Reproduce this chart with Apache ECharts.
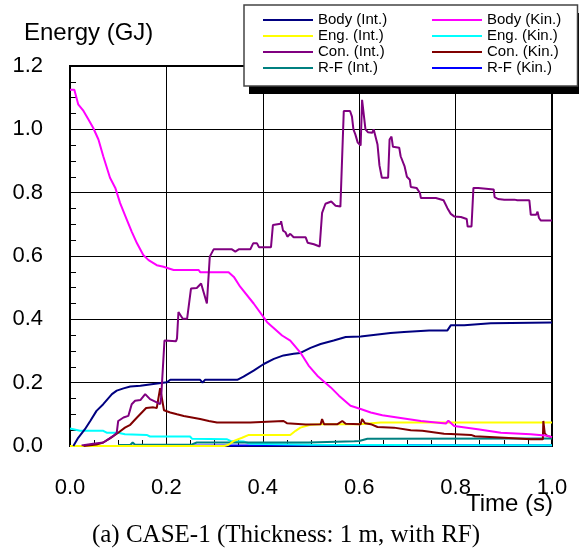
<!DOCTYPE html>
<html>
<head>
<meta charset="utf-8">
<script src="https://cdn.jsdelivr.net/npm/echarts@6/dist/echarts.min.js"></script>
<style>html,body{margin:0;padding:0;background:#fff;}#c{width:579px;height:550px;}</style>
</head>
<body>
<div id="c"></div>
<script>
// ---- data (time in s, energy in GJ) ----
const xTicks = [0, 0.2, 0.4, 0.6, 0.8, 1.0];
const yTicks = [0, 0.2, 0.4, 0.6, 0.8, 1.0, 1.2];

const bodyIntT = [0.007,0.017,0.031,0.042,0.055,0.069,0.087,0.097,0.111,0.125,0.146,0.173,0.201,0.208,0.270,0.275,0.280,0.347,0.360,0.381,0.402,0.423,0.443,0.464,0.478,0.499,0.520,0.547,0.572,0.603,0.665,0.693,0.745,0.783,0.790,0.818,0.873,1.0];
const bodyIntE = [0.0,0.026,0.053,0.079,0.111,0.132,0.164,0.175,0.182,0.188,0.190,0.196,0.201,0.209,0.209,0.200,0.209,0.209,0.219,0.238,0.259,0.275,0.286,0.291,0.294,0.310,0.322,0.333,0.344,0.346,0.357,0.360,0.365,0.365,0.381,0.381,0.388,0.390];

const bodyKinT = [0,0.009,0.017,0.028,0.038,0.048,0.059,0.069,0.083,0.094,0.104,0.118,0.128,0.139,0.152,0.163,0.180,0.194,0.215,0.267,0.270,0.329,0.340,0.353,0.381,0.409,0.440,0.457,0.478,0.495,0.513,0.541,0.558,0.582,0.603,0.624,0.648,0.679,0.728,0.780,0.785,0.797,0.846,0.894,0.956,0.991,1.0];
const bodyKinE = [1.125,1.125,1.079,1.058,1.032,1.005,0.968,0.915,0.847,0.815,0.767,0.714,0.677,0.640,0.603,0.587,0.571,0.566,0.556,0.556,0.549,0.549,0.534,0.503,0.450,0.391,0.349,0.333,0.295,0.254,0.222,0.185,0.159,0.127,0.117,0.106,0.097,0.090,0.079,0.071,0.080,0.063,0.053,0.042,0.037,0.032,0.028];

const engIntT = [0.0,0.320,0.329,0.340,0.357,0.371,0.457,0.468,0.478,0.499,0.523,0.600,0.645,1.0];
const engIntE = [0.0,0.0,0.004,0.016,0.026,0.035,0.035,0.048,0.058,0.067,0.069,0.069,0.074,0.074];

const engKinT = [0,0.021,0.069,0.076,0.100,0.114,0.159,0.166,0.249,0.253,0.326,0.333,0.360,0.374,0.50,0.70,1.0];
const engKinE = [0.055,0.048,0.048,0.042,0.042,0.037,0.035,0.030,0.030,0.023,0.021,0.016,0.014,0.007,0.004,0.003,0.002];

const conIntT = [0.024,0.048,0.069,0.090,0.097,0.100,0.111,0.121,0.128,0.135,0.146,0.156,0.166,0.180,0.187,0.189,0.196,0.220,0.222,0.225,0.234,0.243,0.251,0.263,0.272,0.284,0.290,0.298,0.336,0.343,0.350,0.374,0.380,0.388,0.392,0.417,0.421,0.437,0.438,0.442,0.447,0.451,0.457,0.464,0.489,0.493,0.506,0.518,0.523,0.530,0.542,0.551,0.561,0.568,0.581,0.585,0.588,0.592,0.597,0.603,0.606,0.613,0.618,0.627,0.630,0.638,0.642,0.645,0.647,0.660,0.663,0.667,0.670,0.683,0.686,0.694,0.699,0.705,0.707,0.719,0.726,0.728,0.759,0.762,0.775,0.783,0.790,0.797,0.811,0.823,0.825,0.833,0.837,0.847,0.851,0.879,0.881,0.888,0.892,0.901,0.922,0.925,0.928,0.953,0.956,0.967,0.970,0.973,0.977,1.0];
const conIntE = [0.002,0.007,0.011,0.032,0.042,0.079,0.090,0.095,0.132,0.143,0.145,0.164,0.148,0.138,0.132,0.150,0.333,0.331,0.340,0.423,0.402,0.402,0.497,0.499,0.513,0.450,0.598,0.621,0.621,0.614,0.621,0.621,0.640,0.640,0.628,0.628,0.698,0.702,0.710,0.680,0.675,0.661,0.670,0.659,0.659,0.642,0.637,0.630,0.736,0.765,0.772,0.759,0.756,1.058,1.058,1.040,1.000,0.984,0.958,0.949,1.093,1.000,0.991,0.989,1.000,0.952,0.886,0.884,0.847,0.847,0.968,0.977,0.945,0.942,0.915,0.884,0.850,0.841,0.818,0.815,0.799,0.783,0.783,0.778,0.776,0.751,0.733,0.725,0.723,0.717,0.693,0.693,0.815,0.815,0.810,0.810,0.786,0.780,0.783,0.778,0.778,0.783,0.776,0.776,0.730,0.730,0.740,0.720,0.712,0.712];

const conKinT = [0.028,0.055,0.069,0.083,0.100,0.114,0.125,0.139,0.158,0.173,0.180,0.187,0.195,0.208,0.222,0.236,0.253,0.270,0.288,0.305,0.374,0.378,0.443,0.450,0.489,0.520,0.523,0.527,0.555,0.565,0.572,0.603,0.606,0.612,0.624,0.638,0.672,0.707,0.731,0.734,0.776,0.790,0.832,0.840,0.901,0.956,0.981,0.982,0.985,0.990,1.0];
const conKinE = [0.0,0.005,0.011,0.024,0.042,0.058,0.067,0.090,0.120,0.122,0.120,0.183,0.113,0.106,0.100,0.095,0.090,0.085,0.079,0.074,0.074,0.079,0.079,0.072,0.068,0.069,0.085,0.069,0.069,0.079,0.070,0.069,0.085,0.072,0.069,0.060,0.058,0.050,0.048,0.044,0.039,0.038,0.035,0.031,0.026,0.021,0.021,0.079,0.040,0.032,0.028];

const rfIntT = [0.100,0.125,0.130,0.135,0.253,0.263,0.495,0.499,0.590,0.592,0.600,0.617,1.0];
const rfIntE = [0.003,0.003,0.011,0.004,0.005,0.011,0.011,0.015,0.015,0.021,0.016,0.023,0.024];

const rfKinT = [0.100,0.550,0.600,0.950,1.0];
const rfKinE = [0.001,0.002,0.003,0.002,0.002];

const seriesNames = ['Body (Int.)','Body (Kin.)','Eng. (Int.)','Eng. (Kin.)','Con. (Int.)','Con. (Kin.)','R-F (Int.)','R-F (Kin.)'];
const seriesColors = ['#000080','#ff00ff','#ffff00','#00ffff','#800080','#800000','#008080','#0000ff'];

const titleText = 'Energy (GJ)';
const xTitleText = 'Time (s)';
const captionText = '(a) CASE-1 (Thickness: 1 m, with RF)';

// ---- build ----
function zip(t, e) { return t.map((v, i) => [v, e[i]]); }
const seriesData = {
  'Body (Int.)': zip(bodyIntT, bodyIntE),
  'Body (Kin.)': zip(bodyKinT, bodyKinE),
  'Eng. (Int.)': zip(engIntT, engIntE),
  'Eng. (Kin.)': zip(engKinT, engKinE),
  'Con. (Int.)': zip(conIntT, conIntE),
  'Con. (Kin.)': zip(conKinT, conKinE),
  'R-F (Int.)': zip(rfIntT, rfIntE),
  'R-F (Kin.)': zip(rfKinT, rfKinE)
};
const drawOrder = ['R-F (Kin.)','Eng. (Kin.)','R-F (Int.)','Eng. (Int.)','Con. (Kin.)','Body (Int.)','Body (Kin.)','Con. (Int.)'];
const FONT = "'Liberation Sans', Arial, sans-serif";

const chart = echarts.init(document.getElementById('c'), null, {renderer: 'canvas'});
chart.setOption({
  animation: false,
  backgroundColor: '#ffffff',
  grid: {left: 70, right: 27, top: 66, bottom: 104, show: true, borderColor: '#000', borderWidth: 2, backgroundColor: 'transparent'},
  xAxis: {
    type: 'value', min: xTicks[0], max: xTicks[xTicks.length - 1], interval: 0.2,
    axisLine: {show: true, lineStyle: {color: '#000', width: 2}},
    axisTick: {show: true, inside: true, length: 6, lineStyle: {color: '#000'}},
    minorTick: {show: true, splitNumber: 4, length: 6, lineStyle: {color: '#000', width: 1}},
    splitLine: {show: true, lineStyle: {color: '#000', width: 1}},
    axisLabel: {fontSize: 22, color: '#000', fontFamily: FONT, margin: 31, formatter: v => v.toFixed(1)}
  },
  yAxis: {
    type: 'value', min: yTicks[0], max: yTicks[yTicks.length - 1], interval: 0.2,
    axisLine: {show: true, lineStyle: {color: '#000', width: 2}},
    axisTick: {show: true, inside: true, length: 6, lineStyle: {color: '#000'}},
    minorTick: {show: true, splitNumber: 4, length: 6, lineStyle: {color: '#000', width: 1}},
    splitLine: {show: true, lineStyle: {color: '#000', width: 1}},
    axisLabel: {fontSize: 22, color: '#000', fontFamily: FONT, margin: 27, formatter: v => v.toFixed(1)}
  },
  legend: {
    data: seriesNames,
    left: 263, top: 12, width: 345, padding: 0,
    itemWidth: 50, itemHeight: 14, itemGap: 0,
    icon: 'path://M0,0L100,0L100,4L0,4Z',
    textStyle: {fontSize: 15, color: '#000', fontFamily: FONT, width: 114, lineHeight: 16},
    z: 30
  },
  graphic: [
    {type: 'rect', z: 20, shape: {x: 249, y: 13, width: 340, height: 81}, style: {fill: '#000'}},
    {type: 'rect', z: 21, shape: {x: 244, y: 5, width: 333.5, height: 81}, style: {fill: '#fff', stroke: '#444', lineWidth: 1.5}},
    {type: 'text', z: 21, x: 24, y: 33, style: {text: titleText, font: "24px " + FONT, fill: '#000', textVerticalAlign: 'middle', verticalAlign: 'middle'}},
    {type: 'text', z: 21, x: 466, y: 504, style: {text: xTitleText, font: "24px " + FONT, fill: '#000', textVerticalAlign: 'middle', verticalAlign: 'middle'}},
    {type: 'text', z: 21, x: 286, y: 535, style: {text: captionText, font: "25px 'Liberation Serif', 'Times New Roman', serif", fill: '#000', align: 'center', textAlign: 'center', verticalAlign: 'middle', textVerticalAlign: 'middle'}}
  ],
  series: drawOrder.map(name => ({
    name: name,
    type: 'line',
    data: seriesData[name],
    symbol: 'none',
    color: seriesColors[seriesNames.indexOf(name)],
    lineStyle: {width: 2, color: seriesColors[seriesNames.indexOf(name)]},
    z: 2
  }))
});
</script>
</body>
</html>
